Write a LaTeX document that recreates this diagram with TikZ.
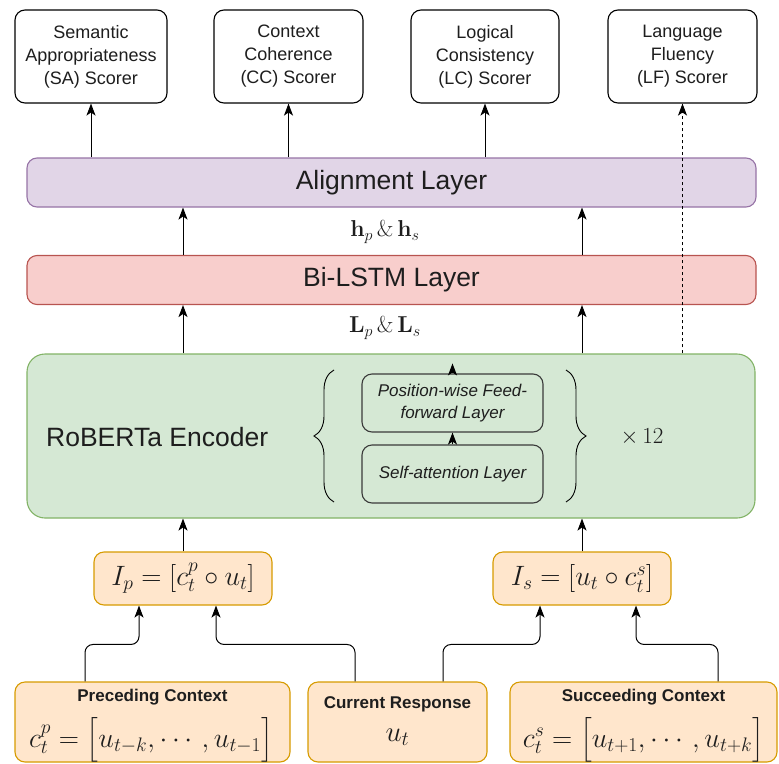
\RequirePackage{fix-cm}
\documentclass[tikz,border=0pt]{standalone}
\usepackage{amsmath}
\usepackage[no-math]{fontspec}
\setmainfont{Liberation Sans}
\usetikzlibrary{arrows.meta,decorations.pathreplacing,calc}

\definecolor{txt}{HTML}{1E1E1E}
\definecolor{purpleFill}{HTML}{E1D5E7}
\definecolor{purpleLine}{HTML}{9673A6}
\definecolor{redFill}{HTML}{F8CECC}
\definecolor{redLine}{HTML}{B85450}
\definecolor{greenFill}{HTML}{D5E8D4}
\definecolor{greenLine}{HTML}{82B366}
\definecolor{orangeFill}{HTML}{FFE6CC}
\definecolor{orangeLine}{HTML}{D79B00}
\definecolor{innerLine}{HTML}{3A3A3A}

\tikzset{
  box/.style={draw, rounded corners=10, line width=1.1pt, align=center, inner sep=0pt, text=txt},
  scorer/.style={box, draw=black, fill=white, minimum height=93,
    font=\fontsize{18}{23}\selectfont},
  layer/.style={box, minimum width=729, minimum height=49,
    font=\fontsize{26.5}{30}\selectfont},
  inner/.style={box, draw=innerLine, minimum width=181, minimum height=58,
    font=\itshape\fontsize{17}{22}\selectfont},
  orangebox/.style={box, draw=orangeLine, fill=orangeFill},
  arr/.style={-{Stealth[length=12pt,width=9pt,inset=3pt]}, line width=1pt, draw=black},
  lbl/.style={text=txt, inner sep=0pt, font=\fontsize{23}{26}\selectfont},
  plain/.style={text=txt, inner sep=0pt}
}

\begin{document}
\begin{tikzpicture}[x=1pt,y=-1pt]
\useasboundingbox (0,0) rectangle (779,763);

% scorers
\node[scorer, minimum width=152] (sa) at (91,56.5) {Semantic\\Appropriateness\\(SA) Scorer};
\node[scorer, minimum width=149] (cc) at (288.5,56.5) {Context\\Coherence\\(CC) Scorer};
\node[scorer, minimum width=148] (lc) at (485,56.5) {Logical\\Consistency\\(LC) Scorer};
\node[scorer, minimum width=149] (lf) at (682.5,56.5) {Language\\Fluency\\(LF) Scorer};

% stacked layers
\node[layer, draw=purpleLine, fill=purpleFill] (al) at (391.5,182.5) {Alignment Layer};
\node[layer, draw=redLine, fill=redFill] (bi) at (391.5,280) {Bi-LSTM Layer};
\node[box, draw=greenLine, fill=greenFill, rounded corners=18, minimum width=728, minimum height=164] (rob) at (391,436) {};

\node[lbl] (hps) at (385,232) {$\mathbf{h}_p \,\&\, \mathbf{h}_s$};
\node[lbl] (lps) at (385,328) {$\mathbf{L}_p \,\&\, \mathbf{L}_s$};

% encoder contents
\node[plain, font=\fontsize{26.5}{30}\selectfont, anchor=west] (robt) at (46,437) {RoBERTa Encoder};
\node[inner] (ffn) at (452.5,403) {Position-wise Feed-\\forward Layer};
\node[inner] (att) at (452.5,474) {Self-attention Layer};
\coordinate (ffnout) at ($(ffn.north)+(0,-10)$);
\draw[arr] (att.north) -- (ffn.south);
\draw[arr] (ffn.north) -- (ffnout);
\draw[line width=0.9pt, decorate, decoration={brace, amplitude=20pt, aspect=0.5}] (334,502) -- (334,370);
\draw[line width=0.9pt, decorate, decoration={brace, amplitude=20pt, aspect=0.5}] (566,370) -- (566,502);
\node[lbl] (rep) at (642,437) {$\times\, 12$};

% concatenated inputs
\node[orangebox, minimum width=178, minimum height=53, font=\fontsize{28}{32}\selectfont] (ip) at (183,578.5) {$I_p = [c_t^p \circ u_t]$};
\node[orangebox, minimum width=178, minimum height=53, font=\fontsize{28}{32}\selectfont] (is) at (582,578.5) {$I_s = [u_t \circ c_t^s]$};

% source boxes
\node[orangebox, minimum width=275, minimum height=80] (prec) at (152.5,722) {};
\node[orangebox, minimum width=179, minimum height=80] (curr) at (397.5,722) {};
\node[orangebox, minimum width=267, minimum height=80] (succ) at (643.5,722) {};
\node[plain, font=\bfseries\fontsize{17}{20}\selectfont] (prect) at (152.5,697) {Preceding Context};
\node[plain, font=\fontsize{28}{32}\selectfont] (precm) at (151,740) {$c_t^p = \bigl[u_{t-k}, \cdots, u_{t-1}\bigr]$};
\node[plain, font=\bfseries\fontsize{17}{20}\selectfont] (currt) at (397.5,704) {Current Response};
\node[plain, font=\fontsize{29}{32}\selectfont] (currm) at (397.5,737) {$u_t$};
\node[plain, font=\bfseries\fontsize{17}{20}\selectfont] (succt) at (643.5,697) {Succeeding Context};
\node[plain, font=\fontsize{28}{32}\selectfont] (succm) at (643.5,740) {$c_t^s = \bigl[u_{t+1}, \cdots, u_{t+k}\bigr]$};

% connectors into the concatenations
\draw[arr, rounded corners=8] ([xshift=-67.5]prec.north) -- ++(0,-37) -| ([xshift=-44]ip.south);
\draw[arr, rounded corners=8] ([xshift=-42.5]curr.north) -- ++(0,-37) -| ([xshift=33]ip.south);
\draw[arr, rounded corners=8] ([xshift=45.5]curr.north) -- ++(0,-37) -| ([xshift=-42]is.south);
\draw[arr, rounded corners=8] ([xshift=74.5]succ.north) -- ++(0,-37) -| ([xshift=54]is.south);

% upward flow
\draw[arr] (ip.north) -- (ip.north |- rob.south);
\draw[arr] (is.north) -- (is.north |- rob.south);
\draw[arr] (rob.north -| ip.north) -- (bi.south -| ip.north);
\draw[arr] (rob.north -| is.north) -- (bi.south -| is.north);
\draw[arr] (bi.north -| ip.north) -- (al.south -| ip.north);
\draw[arr] (bi.north -| is.north) -- (al.south -| is.north);

\draw[arr] (al.north -| sa.south) -- (sa.south);
\draw[arr] (al.north -| cc.south) -- (cc.south);
\draw[arr] (al.north -| lc.south) -- (lc.south);
\draw[arr, dashed] (rob.north -| lf.south) -- (lf.south);
\end{tikzpicture}
\end{document}
